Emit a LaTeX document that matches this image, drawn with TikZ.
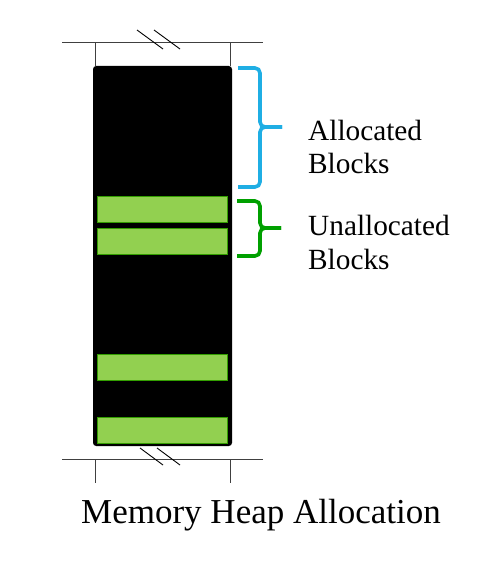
\documentclass[tikz,border=0pt]{standalone}
\usepackage{fontspec}
\setmainfont{Liberation Serif}
\begin{document}
\begin{tikzpicture}[x=1pt,y=-1pt,
  heap/.style={draw=black,fill=black,line width=3pt,rounded corners=2pt,inner sep=0pt,minimum width=136pt,minimum height=377pt},
  freeblk/.style={draw=black!30!green!60!olive,fill=freegreen,line width=0.6pt,inner sep=0pt,minimum width=130pt,minimum height=26pt},
  axis/.style={draw=black!75,line width=1pt},
  brk/.style={draw=black,line width=0.9pt},
  brace/.style={line width=3.6pt,rounded corners=5pt},
  lbl/.style={anchor=base west,inner sep=0pt,font=\fontsize{29.3}{33}\selectfont},
  ttl/.style={anchor=base,inner sep=0pt,font=\fontsize{35}{40}\selectfont}]
\definecolor{freegreen}{HTML}{92D050}
\definecolor{allocblue}{HTML}{1FAEE4}
\definecolor{unallocgreen}{HTML}{00A000}
\useasboundingbox (0,0) rectangle (497,564);
% axis lines
\coordinate (tl) at (62,43); \coordinate (tr) at (263,43);
\coordinate (bl) at (62,459); \coordinate (br) at (263,459);
\draw[axis] (tl) -- (tr);
\draw[axis] (bl) -- (br);
\draw[axis] (95,43) -- (95,66);
\draw[axis] (230,43) -- (230,66);
\draw[axis] (95,459) -- (95,483);
\draw[axis] (230,459) -- (230,483);
% break marks
\draw[brk] (137,30) -- (163,49);
\draw[brk] (154,30) -- (180,49);
\draw[brk] (140,448) -- (163,465);
\draw[brk] (157,448) -- (180,465);
% heap column
\node[heap] (heap) at (162.5,256) {};
\node[freeblk] (f1) at (162,209.5) {};
\node[freeblk] (f2) at (162,241) {};
\node[freeblk] (f3) at (162,367.5) {};
\node[freeblk] (f4) at (162,430) {};
% braces
\coordinate (a1) at (238,68); \coordinate (a2) at (238,187);
\coordinate (at) at (282,127);
\draw[brace,draw=allocblue] (a1) -- (260,68) -- (260,127) -- (at);
\draw[brace,draw=allocblue] (a2) -- (260,187) -- (260,127) -- (at);
\coordinate (u1) at (237,201); \coordinate (u2) at (237,256);
\coordinate (ut) at (281,228);
\draw[brace,draw=unallocgreen] (u1) -- (260,201) -- (260,228) -- (ut);
\draw[brace,draw=unallocgreen] (u2) -- (260,256) -- (260,228) -- (ut);
% labels
\node[lbl] (al1) at (308,141) {Allocated};
\node[lbl] (al2) at (308,174) {Blocks};
\node[lbl] (ul1) at (308,235) {Unallocated};
\node[lbl] (ul2) at (308,269) {Blocks};
\node[ttl] (title) at (261,523) {Memory Heap Allocation};
\end{tikzpicture}
\end{document}
